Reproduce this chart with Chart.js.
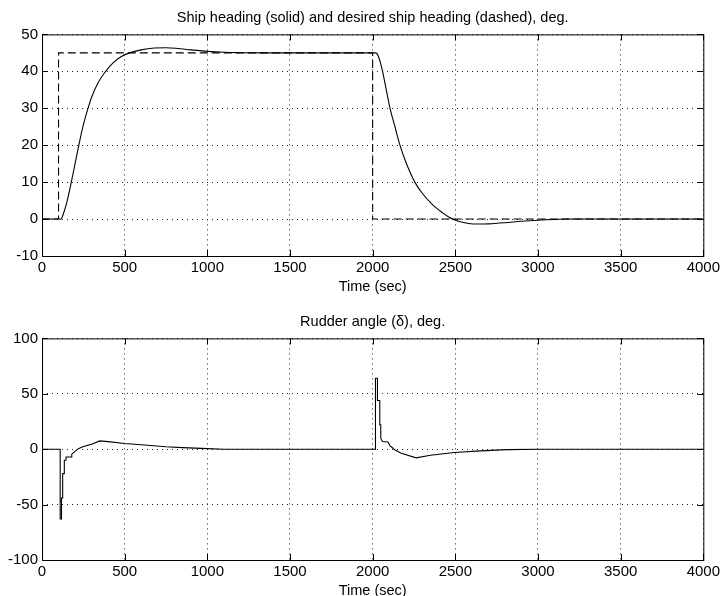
<!DOCTYPE html>
<html>
<head>
<meta charset="utf-8">
<script src="https://cdn.jsdelivr.net/npm/chart.js@4/dist/chart.umd.min.js"></script>
<style>
  html, body { margin: 0; padding: 0; background: #fff; overflow: hidden; }
  .plot { position: absolute; left: 0; width: 723px; height: 300px; }
</style>
</head>
<body>
<div class="plot" style="top:0"><canvas id="heading"></canvas></div>
<div class="plot" style="top:304px"><canvas id="rudder"></canvas></div>
<script>
// ship heading (solid), deg
const headingTime = [0, 114, 130, 150, 175, 200, 225, 250, 275, 300, 340, 385, 430, 480, 530, 600, 680, 750, 820, 900, 1000, 1100, 1200, 1350, 1500, 1800, 2020, 2035, 2060, 2080, 2105, 2135, 2165, 2200, 2255, 2300, 2360, 2420, 2465, 2520, 2580, 2640, 2700, 2800, 2900, 3000, 3100, 3200, 3400, 4000]
const headingValue = [0, 0, 1.5, 4.5, 9.5, 15, 20.5, 25.5, 29.5, 33, 37, 40, 42.3, 44, 45, 45.8, 46.3, 46.4, 46.2, 45.8, 45.4, 45.15, 45.05, 45, 45, 45, 45, 44, 40, 35.5, 30, 25, 20, 15.5, 10, 7, 4, 1.8, 0.4, -0.6, -1.2, -1.35, -1.3, -1, -0.6, -0.3, -0.1, 0, 0, 0]

// desired heading (dashed), deg
const desiredTime = [0, 100, 100, 2000, 2000, 4000]
const desiredValue = [0, 0, 45, 45, 0, 0]

// rudder angle, deg
const rudderTime = [0, 110, 110, 118, 118, 125, 125, 135, 135, 145, 145, 178, 180, 200, 220, 250, 300, 350, 400, 500, 600, 750, 850, 1000, 1100, 2017, 2017, 2029, 2029, 2043, 2043, 2049, 2049, 2059, 2093, 2105, 2115, 2133, 2173, 2263, 2350, 2494, 2650, 2815, 3000, 4000]
const rudderValue = [0, 0, -63, -63, -44, -44, -22, -22, -10, -10, -7, -7, -4.5, -2, 0.5, 2.5, 4.5, 7.5, 6.8, 5.1, 4, 2.2, 1.4, 0.5, 0, 0, 64, 64, 44, 44, 22, 22, 10, 7, 6.5, 3, 2, -0.6, -3.6, -7.8, -5.5, -3, -1.5, -0.4, 0, 0]

const timeTicks = [0, 500, 1000, 1500, 2000, 2500, 3000, 3500, 4000]

const pts = (xs, ys) => xs.map((x, i) => ({ x: x, y: ys[i] }))

Chart.defaults.font.family = "'Liberation Sans', Arial, sans-serif"
Chart.defaults.color = '#000'

// MATLAB style box with inward ticks
const boxPlugin = {
  id: 'box',
  afterDraw(chart) {
    const { ctx, chartArea: a, scales } = chart
    ctx.save()
    ctx.strokeStyle = '#000'
    ctx.lineWidth = 1
    ctx.strokeRect(a.left + 0.5, a.top + 0.5, a.right - a.left, a.bottom - a.top)
    ctx.beginPath()
    scales.x.ticks.forEach(t => {
      const px = Math.round(scales.x.getPixelForValue(t.value)) + 0.5
      ctx.moveTo(px, a.bottom); ctx.lineTo(px, a.bottom - 6)
      ctx.moveTo(px, a.top); ctx.lineTo(px, a.top + 6)
    })
    scales.y.ticks.forEach(t => {
      const py = Math.round(scales.y.getPixelForValue(t.value)) + 0.5
      ctx.moveTo(a.left, py); ctx.lineTo(a.left + 6, py)
      ctx.moveTo(a.right, py); ctx.lineTo(a.right - 6, py)
    })
    ctx.stroke()
    ctx.restore()
  }
}

function makeChart(id, title, datasets, ymin, ymax, ystep) {
  return new Chart(document.getElementById(id), {
    type: 'line',
    data: { datasets },
    plugins: [boxPlugin],
    options: {
      responsive: true,
      maintainAspectRatio: false,
      animation: false,
      layout: { padding: { left: 0, right: 16, top: 0, bottom: 0 } },
      elements: { point: { radius: 0 }, line: { borderWidth: 1.1 } },
      plugins: {
        legend: { display: false },
        tooltip: { enabled: false },
        title: {
          display: true,
          text: title,
          fullSize: false,
          font: { size: 14.5, weight: 'normal' },
          padding: { top: 9, bottom: 8 }
        }
      },
      scales: {
        x: {
          type: 'linear',
          min: 0, max: 4000,
          afterBuildTicks: s => { s.ticks = timeTicks.map(v => ({ value: v })) },
          afterFit: s => { s.height = 44 },
          ticks: { font: { size: 15 }, padding: 3, maxRotation: 0, callback: v => String(v) },
          grid: { color: '#222', lineWidth: 1, drawTicks: false },
          border: { display: false, dash: [1, 4] },
          title: { display: true, text: 'Time (sec)', font: { size: 14.5 }, padding: { top: 0, bottom: 4 } }
        },
        y: {
          min: ymin, max: ymax,
          afterFit: s => { s.width = 42 },
          ticks: { stepSize: ystep, font: { size: 15 }, padding: 4, callback: v => String(v) },
          grid: { color: '#222', lineWidth: 1, drawTicks: false },
          border: { display: false, dash: [1, 4] }
        }
      }
    }
  })
}

makeChart('heading', 'Ship heading (solid) and desired ship heading (dashed), deg.', [
  { data: pts(headingTime, headingValue), borderColor: '#000', cubicInterpolationMode: 'monotone' },
  { data: pts(desiredTime, desiredValue), borderColor: '#000', borderDash: [8, 4] }
], -10, 50, 10)

makeChart('rudder', 'Rudder angle (\u03b4), deg.', [
  { data: pts(rudderTime, rudderValue), borderColor: '#000' }
], -100, 100, 50)
</script>
</body>
</html>
